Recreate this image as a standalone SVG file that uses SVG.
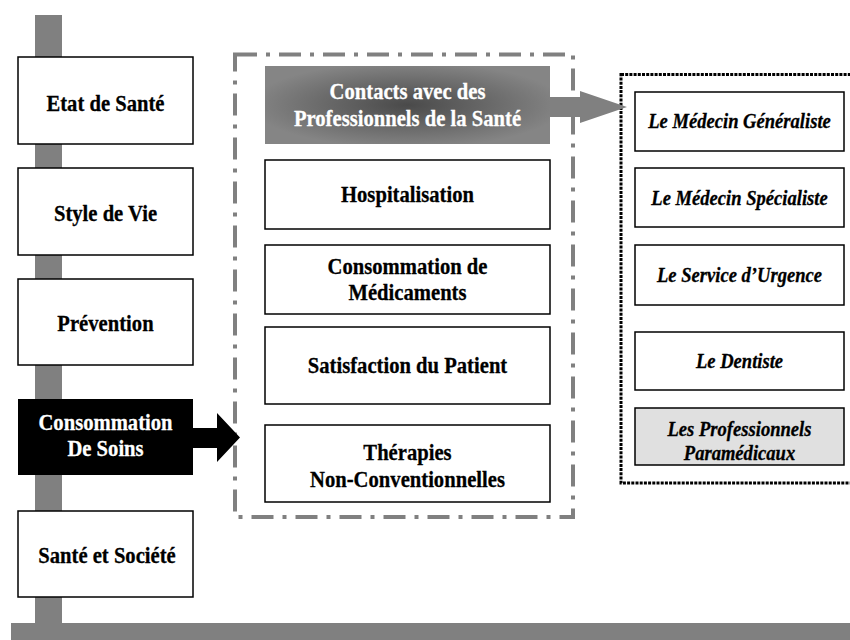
<svg xmlns="http://www.w3.org/2000/svg" width="850" height="640" viewBox="0 0 850 640">
<defs>
<radialGradient id="gc" cx="50%" cy="50%" r="55%">
<stop offset="0%" stop-color="#4a4a4a"/>
<stop offset="100%" stop-color="#858585"/>
</radialGradient>
<style>
.box{fill:#fff;stroke:#000;stroke-width:1.5}
text{font-family:'Liberation Serif','Times New Roman',serif;font-weight:bold;font-size:24px;text-anchor:middle;fill:#000;stroke:#000;stroke-width:0.3}
.w{fill:#fff;stroke:#fff}
.it{font-style:italic;font-size:20.5px}
.bar{fill:#808080}
</style>
</defs>
<rect width="850" height="640" fill="#fff"/>
<g id="axis">
<rect class="bar" x="35" y="15" width="27" height="625"/>
<rect class="bar" x="11" y="623" width="839" height="17"/>
</g>
<g id="group-soins">
<rect x="235" y="54.5" width="338" height="462.5" fill="none" stroke="#808080" stroke-width="4" stroke-dasharray="22 9 4 9"/>
</g>
<g id="group-pros">
<rect x="621" y="74.5" width="235" height="408.5" fill="none" stroke="#000" stroke-width="3" stroke-dasharray="3 1.2"/>
</g>
<g id="connectors">
<polygon points="193,428 217,428 217,413 240,437.5 217,462 217,448 193,448" fill="#000"/>
<polygon points="550,97 580,97 580,91 627,107 580,123 580,117 550,117" fill="#808080"/>
</g>
<g id="etat-sante">
<rect class="box" x="18" y="57" width="175" height="87"/>
<text transform="translate(105.5 111) scale(0.86 1)">Etat de Santé</text>
</g>
<g id="style-vie">
<rect class="box" x="18" y="168" width="175" height="87"/>
<text transform="translate(105.5 221) scale(0.86 1)">Style de Vie</text>
</g>
<g id="prevention">
<rect class="box" x="18" y="279" width="175" height="86"/>
<text transform="translate(105.5 331) scale(0.86 1)">Prévention</text>
</g>
<g id="consommation-soins">
<rect x="18" y="399" width="175" height="76" fill="#000"/>
<text class="w" transform="translate(105.5 430) scale(0.86 1)">Consommation</text>
<text class="w" transform="translate(105.5 456) scale(0.86 1)">De Soins</text>
</g>
<g id="sante-societe">
<rect class="box" x="18" y="511" width="175" height="86"/>
<text transform="translate(107 563) scale(0.86 1)">Santé et Société</text>
</g>
<g id="contacts">
<rect x="265" y="66" width="285" height="78" fill="url(#gc)"/>
<text class="w" transform="translate(407.5 99) scale(0.86 1)">Contacts avec des</text>
<text class="w" transform="translate(407.5 126) scale(0.86 1)">Professionnels de la Santé</text>
</g>
<g id="hospitalisation">
<rect class="box" x="265" y="160" width="285" height="69"/>
<text transform="translate(407.5 202) scale(0.86 1)">Hospitalisation</text>
</g>
<g id="medicaments">
<rect class="box" x="265" y="245" width="285" height="69"/>
<text transform="translate(407.5 274) scale(0.86 1)">Consommation de</text>
<text transform="translate(407.5 300) scale(0.86 1)">Médicaments</text>
</g>
<g id="satisfaction">
<rect class="box" x="265" y="327" width="285" height="77"/>
<text transform="translate(407.5 373) scale(0.86 1)">Satisfaction du Patient</text>
</g>
<g id="therapies">
<rect class="box" x="265" y="425" width="285" height="77"/>
<text transform="translate(407.5 460) scale(0.86 1)">Thérapies</text>
<text transform="translate(407.5 487) scale(0.86 1)">Non-Conventionnelles</text>
</g>
<g id="generaliste">
<rect class="box" x="635" y="92" width="209" height="59"/>
<text class="it" transform="translate(739.5 128) scale(0.907 1)">Le Médecin Généraliste</text>
</g>
<g id="specialiste">
<rect class="box" x="635" y="168" width="209" height="59"/>
<text class="it" transform="translate(739.5 205) scale(0.907 1)">Le Médecin Spécialiste</text>
</g>
<g id="urgence">
<rect class="box" x="635" y="245" width="209" height="60"/>
<text class="it" transform="translate(739.5 282) scale(0.907 1)">Le Service d’Urgence</text>
</g>
<g id="dentiste">
<rect class="box" x="635" y="332" width="209" height="58"/>
<text class="it" transform="translate(739.5 368) scale(0.907 1)">Le Dentiste</text>
</g>
<g id="paramedicaux">
<rect x="635" y="408" width="209" height="57" fill="#e0e0e0" stroke="#000" stroke-width="1.5"/>
<text class="it" transform="translate(739.5 436) scale(0.907 1)">Les Professionnels</text>
<text class="it" transform="translate(739.5 460) scale(0.907 1)">Paramédicaux</text>
</g>
</svg>
